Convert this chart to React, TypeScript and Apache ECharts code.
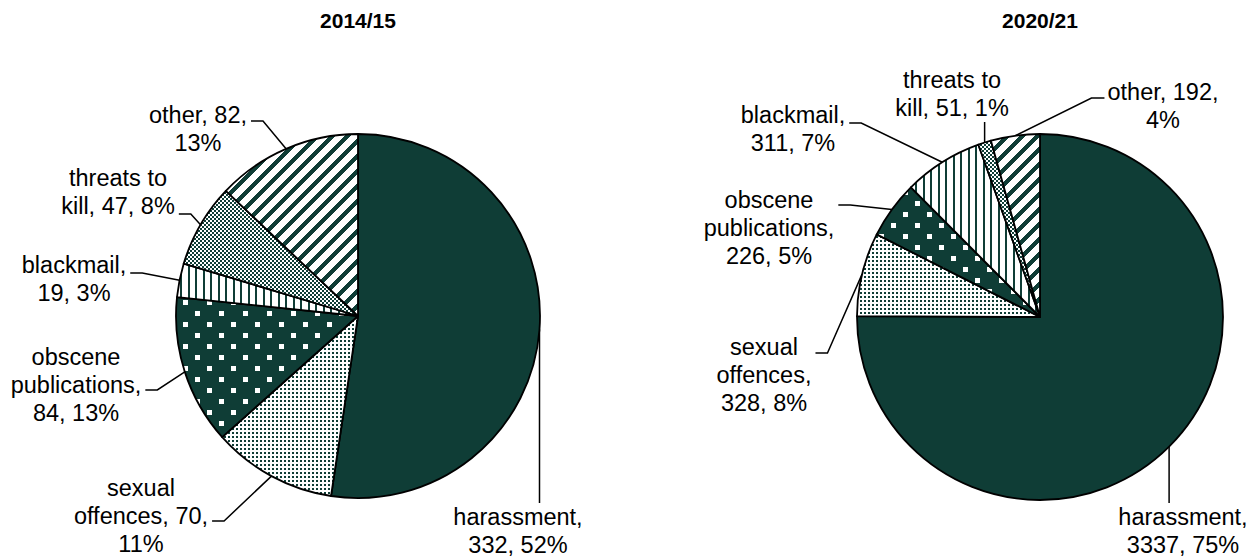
import React, { useEffect, useRef } from 'react';
import * as echarts from 'echarts';

// ---------- data ----------
const categories = ['harassment', 'sexual offences', 'obscene publications', 'blackmail', 'threats to kill', 'other'];
const values1415 = [332, 70, 84, 19, 47, 82];
const values2021 = [3337, 328, 226, 311, 51, 192];
const pct1415 = ['52%', '11%', '13%', '3%', '8%', '13%'];
const pct2021 = ['75%', '8%', '5%', '7%', '1%', '4%'];
const titles = ['2014/15', '2020/21'];

// ---------- layout (words per label line) ----------
const lineBreaks1415 = [[1, 2], [1, 2, 1], [1, 1, 2], [1, 2], [2, 3], [2, 1]];
const lineBreaks2021 = [[1, 2], [1, 1, 2], [1, 1, 2], [1, 2], [2, 3], [2, 1]];

type LabelSpec = { cx: number; top: number; attach: 'top' | 'bottom' | 'left' | 'right'; ay?: number };
const labelPos1415: LabelSpec[] = [
  { cx: 518, top: 503, attach: 'top' },
  { cx: 141, top: 474, attach: 'right', ay: 521 },
  { cx: 76, top: 343, attach: 'right', ay: 390 },
  { cx: 74, top: 251, attach: 'right', ay: 273 },
  { cx: 118, top: 164, attach: 'right', ay: 214 },
  { cx: 198, top: 101, attach: 'right', ay: 121 },
];
const labelPos2021: LabelSpec[] = [
  { cx: 1183, top: 503, attach: 'top' },
  { cx: 764, top: 333, attach: 'right', ay: 353 },
  { cx: 769, top: 186, attach: 'right', ay: 205 },
  { cx: 793, top: 101, attach: 'right', ay: 123 },
  { cx: 952, top: 66, attach: 'bottom' },
  { cx: 1163, top: 78, attach: 'left', ay: 98 },
];

const DARK = '#0F3D36';
const FONT = '"Liberation Sans", Arial, Helvetica, sans-serif';

function tile(w: number, h: number, draw: (ctx: CanvasRenderingContext2D) => void) {
  const c = document.createElement('canvas');
  c.width = w;
  c.height = h;
  const ctx = c.getContext('2d') as CanvasRenderingContext2D;
  draw(ctx);
  return { image: c.toDataURL(), repeat: 'repeat', imageWidth: w, imageHeight: h } as any;
}

function makeFills() {
  const solid = DARK;
  const fineDots = tile(4, 4, (ctx) => {
    ctx.fillStyle = '#fff'; ctx.fillRect(0, 0, 4, 4);
    ctx.fillStyle = DARK; ctx.fillRect(0, 0, 2, 2);
  });
  const bigDots = tile(24, 22, (ctx) => {
    ctx.fillStyle = DARK; ctx.fillRect(0, 0, 24, 22);
    ctx.fillStyle = '#fff';
    ctx.fillRect(3, 3, 5, 5);
    ctx.fillRect(15, 14, 5, 5);
  });
  const vertical = tile(15, 4, (ctx) => {
    ctx.fillStyle = '#fff'; ctx.fillRect(0, 0, 15, 4);
    ctx.fillStyle = DARK; ctx.fillRect(0, 0, 2, 4); ctx.fillRect(8, 0, 2, 4);
  });
  const checker = tile(4, 4, (ctx) => {
    ctx.fillStyle = '#fff'; ctx.fillRect(0, 0, 4, 4);
    ctx.fillStyle = DARK; ctx.fillRect(0, 0, 2, 2); ctx.fillRect(2, 2, 2, 2);
  });
  const diagonal = tile(15, 15, (ctx) => {
    ctx.fillStyle = '#fff'; ctx.fillRect(0, 0, 15, 15);
    ctx.fillStyle = DARK;
    for (let y = 0; y < 15; y++) for (let x = 0; x < 15; x++) if ((x + y) % 15 < 6) ctx.fillRect(x, y, 1, 1);
  });
  return [solid, fineDots, bigDots, vertical, checker, diagonal];
}

function labelText(name: string, value: number, pct: string, breaks: number[]) {
  const tokens = `${name}, ${value}, ${pct}`.split(' ');
  const lines: string[] = [];
  let k = 0;
  for (const n of breaks) {
    lines.push(tokens.slice(k, k + n).join(' '));
    k += n;
  }
  if (k < tokens.length) lines[lines.length - 1] += ' ' + tokens.slice(k).join(' ');
  return lines.join('\n');
}

export default function App() {
  const ref = useRef<HTMLDivElement>(null);
  useEffect(() => {
    if (!ref.current) return;
    const chart = echarts.init(ref.current, null, { renderer: 'svg' });
    const fills = makeFills();
    const valueSets = [values1415, values2021];
    const pctSets = [pct1415, pct2021];
    const breakSets = [lineBreaks1415, lineBreaks2021];
    const posSets = [labelPos1415, labelPos2021];
    const centers = [[358, 316], [1040, 317]];
    const radii = [182, 183];

    const series = valueSets.map((vals, s) => ({
      type: 'pie',
      center: centers[s],
      radius: radii[s],
      startAngle: 90,
      clockwise: true,
      avoidLabelOverlap: false,
      silent: true,
      data: categories.map((c, i) => ({
        name: c,
        value: vals[i],
        itemStyle: { color: fills[i] },
      })),
      itemStyle: { borderColor: '#000', borderWidth: 1.8 },
      label: {
        show: true,
        position: 'outside',
        overflow: 'none',
        color: '#000',
        fontFamily: FONT,
        fontSize: 23.5,
        lineHeight: 28,
        formatter: (p: any) => labelText(p.name, vals[p.dataIndex], pctSets[s][p.dataIndex], breakSets[s][p.dataIndex]),
      },
      labelLine: { show: true, length: 10, length2: 10, lineStyle: { color: '#000', width: 1.5 } },
      labelLayout: (params: any) => {
        const spec = posSets[s][params.dataIndex];
        const w = params.labelRect.width;
        const h = params.labelRect.height;
        const anchor = params.labelLinePoints ? params.labelLinePoints[0] : [spec.cx, spec.top];
        let pts: number[][];
        if (spec.attach === 'top') {
          pts = [anchor, [anchor[0], spec.top], [anchor[0], spec.top]];
        } else if (spec.attach === 'bottom') {
          pts = [anchor, [anchor[0], spec.top + h], [anchor[0], spec.top + h]];
        } else if (spec.attach === 'right') {
          const ax = spec.cx + w / 2 + 4;
          pts = [anchor, [ax + 12, spec.ay as number], [ax, spec.ay as number]];
        } else {
          const ax = spec.cx - w / 2 - 3;
          pts = [anchor, [ax - 13, spec.ay as number], [ax, spec.ay as number]];
        }
        return { x: spec.cx, y: spec.top, align: 'center', verticalAlign: 'top', labelLinePoints: pts };
      },
    }));

    chart.setOption({
      animation: false,
      backgroundColor: '#fff',
      title: titles.map((t, s) => ({
        text: t,
        left: centers[s][0],
        top: 10,
        textAlign: 'center',
        padding: 0,
        textStyle: { fontFamily: FONT, fontSize: 21, fontWeight: 'bold', color: '#000' },
      })),
      series,
    } as any);
    return () => chart.dispose();
  }, []);
  return (
    <div
      ref={ref}
      style={{ position: 'fixed', left: 0, top: 0, width: 1259, height: 558, background: '#fff' }}
    />
  );
}
